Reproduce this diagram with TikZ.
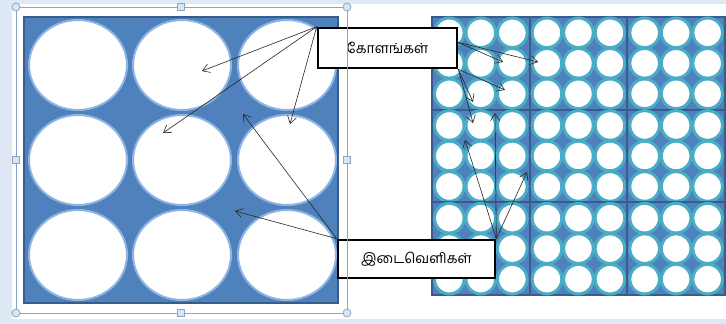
\documentclass[tikz,border=0pt]{standalone}
\usepackage{fontspec}
\newfontfamily\tamil[Script=Tamil]{Hind Madurai}
\usetikzlibrary{arrows.meta}
\definecolor{bgblue}{RGB}{222,233,245}
\definecolor{panelblue}{RGB}{79,129,189}
\definecolor{paneledge}{RGB}{56,93,138}
\definecolor{glow}{RGB}{141,180,226}
\definecolor{teal}{RGB}{75,172,198}
\definecolor{framecol}{RGB}{140,166,194}
\definecolor{handlefill}{RGB}{214,230,244}
\tikzset{
  label box/.style={draw=black, line width=2.6pt, fill=white, inner sep=0pt, font=\tamil\fontsize{14}{16}\selectfont},
  pointer/.style={draw=black!85, line width=0.6pt, -{Straight Barb[length=7pt,width=9pt]}},
  big cell/.style={fill=white, draw=glow, line width=2pt},
  small cell/.style={fill=white, draw=teal, line width=3pt},
  block/.style={fill=panelblue, draw=paneledge, line width=2.2pt},
  frame line/.style={draw=framecol, line width=1pt},
  round handle/.style={circle, fill=handlefill, draw=framecol, line width=0.8pt, minimum size=8pt, inner sep=0pt},
  square handle/.style={rectangle, fill=handlefill, draw=framecol, line width=0.8pt, minimum size=7pt, inner sep=0pt}
}
\begin{document}
\begin{tikzpicture}[x=1pt,y=-1pt]
\useasboundingbox (0,0) rectangle (726,324);
\fill[bgblue] (0,0) rectangle (726,324);
\fill[white] (12,4) rectangle (726,319);
% left panel
\filldraw[fill=panelblue, draw=paneledge, line width=2pt] (24,17) rectangle (338,303);
\foreach \cx in {78,182,287}
  \foreach \cy in {65,160,255}
    \draw[big cell] (\cx,\cy) ellipse [x radius=49, y radius=45];
% right panel
\foreach \bx in {0,1,2}
  \foreach \by in {0,1,2} {
    \draw[block] ({432+\bx*97.67},{17+\by*92.67}) rectangle ({432+(\bx+1)*97.67},{17+(\by+1)*92.67});
    \foreach \c in {-1,0,1}
      \foreach \r in {-1,0,1}
        \draw[small cell] ({432+\bx*97.67+48.8+\c*31.5},{17+\by*92.67+46.3+\r*30.5}) circle [radius=14.8];
  }
% label boxes
\node[label box, minimum width=139pt, minimum height=40pt] (kol) at (387.5,48) {கோளங்கள்};
\node[label box, minimum width=157pt, minimum height=38pt] (idai) at (416.5,259) {இடைவெளிகள்};
% selection frame (drawn above boxes)
\draw[frame line] (16,7) rectangle (347,313);
\node[round handle] (h1) at (16,7) {};
\node[round handle] (h2) at (347,7) {};
\node[round handle] (h3) at (16,313) {};
\node[round handle] (h4) at (347,313) {};
\node[square handle] (h5) at (181,7) {};
\node[square handle] (h6) at (181,313) {};
\node[square handle] (h7) at (16,160) {};
\node[square handle] (h8) at (347,160) {};
% arrow targets
\coordinate (ke) at (457,42);
\coordinate (s1) at (202,71);
\coordinate (s2) at (163,133);
\coordinate (s3) at (290,124);
\coordinate (s4) at (503,62);
\coordinate (s5) at (538,62);
\coordinate (s6) at (505,90);
\coordinate (s7) at (473,102);
\coordinate (s8) at (473,123);
\coordinate (g1) at (243,114);
\coordinate (g2) at (235,211);
\coordinate (g3) at (465,140);
\coordinate (g4) at (495,113);
\coordinate (g5) at (527,172);
% arrows
\foreach \t in {s1,s2,s3} \draw[pointer] (kol.north west) -- (\t);
\foreach \t in {s4,s5} \draw[pointer] (ke) -- (\t);
\foreach \t in {s6,s7,s8} \draw[pointer] (kol.south east) -- (\t);
\foreach \t in {g1,g2} \draw[pointer] (idai.north west) -- (\t);
\foreach \t in {g3,g4,g5} \draw[pointer] (idai.north east) -- (\t);
\end{tikzpicture}
\end{document}
